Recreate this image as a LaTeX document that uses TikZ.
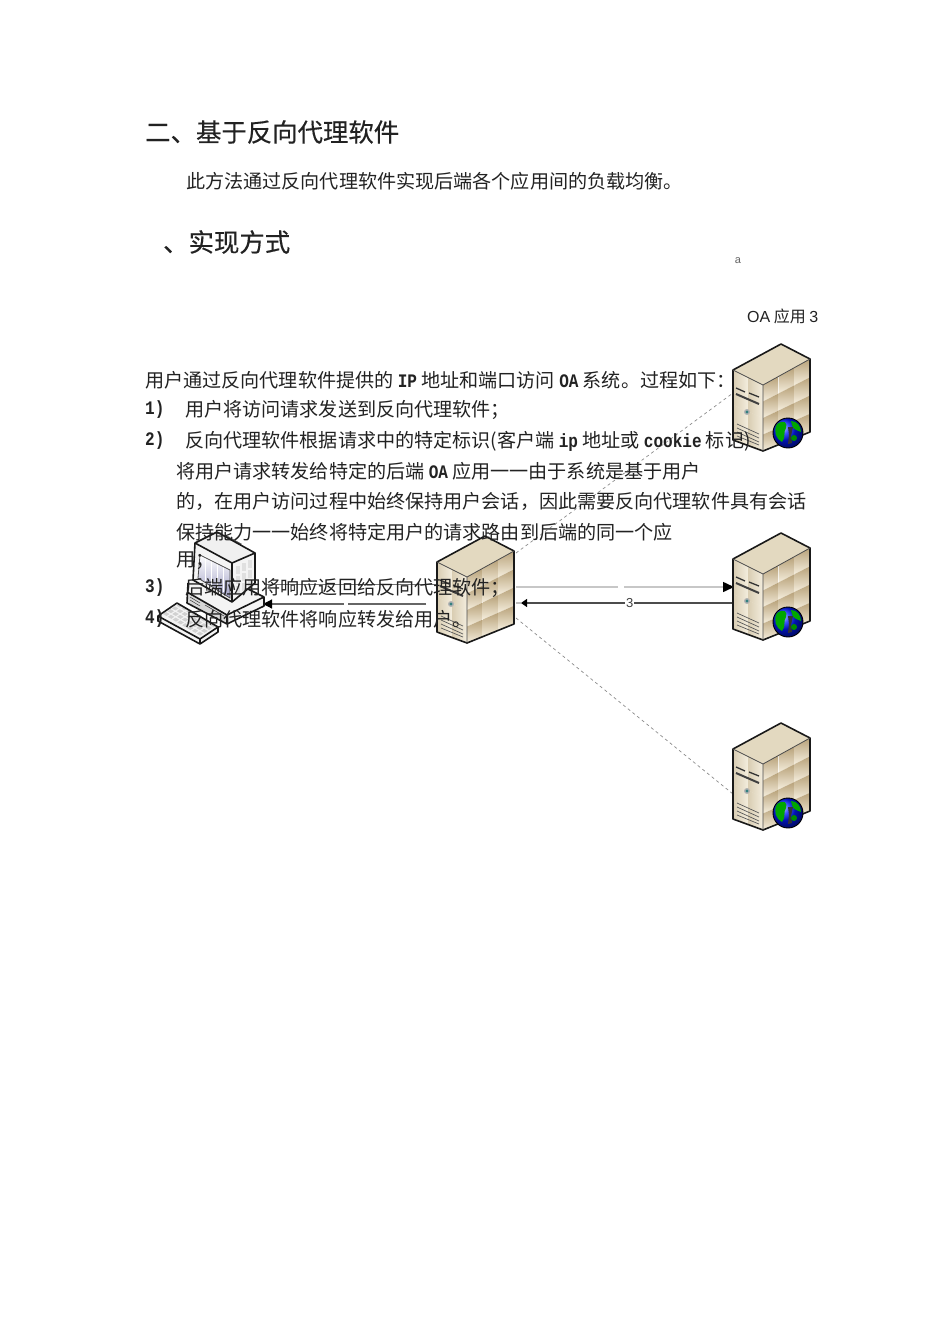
\documentclass[tikz,border=0pt]{standalone}
\usepackage{fontspec}
\setmainfont{Noto Sans CJK SC}
\newfontfamily\latf[Scale=1.0,FakeStretch=0.84,BoldFont={* Bold}]{Liberation Mono}
\newfontfamily\sansf{Liberation Sans}
\newfontfamily\headf[FakeBold=0.35]{Noto Sans CJK SC}
\usetikzlibrary{arrows.meta}
\definecolor{ink}{HTML}{222222}
\definecolor{tileA}{HTML}{B8A27A}
\definecolor{tileB}{HTML}{F5EEDD}
\definecolor{frontA}{HTML}{D9CDB2}
\definecolor{frontB}{HTML}{F3EDDE}
\definecolor{topface}{HTML}{E3D9C0}
\definecolor{caseA}{HTML}{D8D8D8}
\definecolor{caseB}{HTML}{F4F4F4}
\newcommand{\ltn}[1]{{\latf\bfseries #1}}
\tikzset{
  x=1pt,y=-1pt,
  line/.style={font=\fontsize{19.1}{19}\selectfont,anchor=west,inner sep=0pt,text=ink},
  head/.style={font=\headf\fontsize{25.4}{26}\selectfont,anchor=west,inner sep=0pt,text=ink},
  outl/.style={draw=black!90,line width=1.6pt,line join=round},
  hub/.style={inner sep=0pt,minimum width=78pt,minimum height=107pt,anchor=north west},
  pcbox/.style={inner sep=0pt,minimum width=95pt,minimum height=110pt,anchor=north west},
  serverbody/.pic={
    \fill[topface] (48,0)--(0,26)--(30,41)--(77,15)--cycle;
    \fill[frontB] (0,26)--(30,41)--(30,107)--(0,96)--cycle;
    \foreach \i in {0,1}{\foreach \j in {0,1,2,3}{
      \pgfmathsetmacro\ua{\i/2}\pgfmathsetmacro\ub{(\i+1)/2}
      \pgfmathsetmacro\va{\j/4}\pgfmathsetmacro\vb{(\j+1)/4}
      \shade[left color=frontA,right color=frontB]
        ({30*\ua},{26+15*\ua+(70-4*\ua)*\va})--({30*\ub},{26+15*\ub+(70-4*\ub)*\va})--
        ({30*\ub},{26+15*\ub+(70-4*\ub)*\vb})--({30*\ua},{26+15*\ua+(70-4*\ua)*\vb})--cycle;
    }}
    \foreach \i in {0,1,2}{\foreach \j in {0,1,2,3}{
      \pgfmathsetmacro\ua{\i/3}\pgfmathsetmacro\ub{(\i+1)/3}
      \pgfmathsetmacro\va{\j/4}\pgfmathsetmacro\vb{(\j+1)/4}
      \shade[top color=tileA,bottom color=tileB]
        ({30+47*\ua},{41-26*\ua+(66+7*\ua)*\va})--({30+47*\ub},{41-26*\ub+(66+7*\ub)*\va})--
        ({30+47*\ub},{41-26*\ub+(66+7*\ub)*\vb})--({30+47*\ua},{41-26*\ua+(66+7*\ua)*\vb})--cycle;
    }}
    \draw[black!80,line width=1.3pt] (3,44)--(12,48) (16,49)--(26,53);
    \draw[black!75,line width=2pt] (3,50)--(26,60);
    \fill[black!30] (14,68) circle (3);
    \fill[teal!60!gray] (14,68) circle (1.6);
    \draw[black!65,line width=.7pt] (4,80)--(26,90) (4,84)--(26,94) (4,88)--(26,98) (4,92)--(26,101);
    \draw[outl] (48,0)--(77,15)--(77,88)--(30,107)--(0,96)--(0,26)--cycle;
    \draw[black!70,line width=.8pt] (0,26)--(30,41)--(77,15) (30,41)--(30,107);
  },
  globe/.pic={
    \shade[ball color=blue!90!cyan] (0,0) circle (15);
    \fill[green!65!black] (-11,-9) .. controls (-4,-14) and (0,-10) .. (-2,-5) .. controls (-5,-1) and (-2,5) .. (-6,9) .. controls (-12,6) and (-15,-2) .. (-11,-9) -- cycle;
    \fill[green!65!black] (3,-12) .. controls (9,-12) and (13,-7) .. (13,-1) .. controls (8,-3) and (5,-4) .. (4,-8) -- cycle;
    \fill[black!80] (0,-6) -- (5,-6) -- (3,3) -- (4,10) -- (0,11) -- (1,2) -- cycle;
    \fill[green!55!black] (6,5) circle (3);
    \draw[black,line width=.9pt] (0,0) circle (15);
  },
  pcbody/.pic={
    % base unit
    \fill[caseB] (188,583)--(215,568)--(264,597)--(264,606)--(227,624)--(187,603)--cycle;
    \fill[caseA] (187,592)--(227,615)--(227,624)--(187,603)--cycle;
    \draw[black!80,line width=.5pt] (190,597)--(200,603) (190,600)--(200,606) (205,605)--(224,616);
    \draw[outl] (188,583)--(187,603)--(227,624)--(264,606)--(264,597)--(240,585) (187,592)--(227,615)--(264,597) (227,615)--(227,624);
    % monitor
    \fill[caseB] (195,543)--(217,532)--(255,553)--(255,583)--(232,602)--(193,580)--cycle;
    \foreach \a in {0,1,2}{\foreach \b in {0,1,2}{
      \fill[black!12] ({236+6*\a},{566-3*\a+10*\b}) rectangle ++(4,8);
    }}
    \fill[black!65] (222,537)--(226,535)--(242,544)--(238,546)--cycle;
    \fill[black!6] (195,543)--(217,532)--(255,553)--(232,563)--cycle;
    \shade[top color=white,bottom color=blue!25!gray!60] (200,555)--(230,570)--(230,598)--(198,578)--cycle;
    \foreach \a in {0,1,2,3}{\draw[white,line width=.5pt] ({205+6*\a},{556+3*\a})--({205+6*\a},{583+3*\a});}
    \draw[black!70,line width=.8pt] (200,555)--(230,570)--(230,598)--(198,578)--cycle;
    \draw[outl] (195,543)--(217,532)--(255,553)--(255,583)--(232,602)--(193,580)--cycle (195,543)--(232,563)--(255,553) (232,563)--(232,602);
    % keyboard
    \fill[caseB] (158,616)--(177,603)--(218,627)--(218,632)--(200,644)--(158,621)--cycle;
    \foreach \r in {0,1,2,3}{\foreach \c in {0,1,2,3,4,5,6,7}{
      \fill[black!18] ({163+4.8*\c+4.5*\r},{614+2.8*\c-2.8*\r}) ++(0,0) --++(3.5,2)--++(3,-2)--++(-3.5,-2)--cycle;
    }}
    \draw[outl] (158,616)--(177,603)--(218,627)--(218,632)--(200,644)--(158,621)--cycle (158,616)--(200,639)--(218,627) (200,639)--(200,644);
  }
}
\begin{document}
\begin{tikzpicture}
\useasboundingbox[fill=white] (0,0) rectangle (950,1344);

% anchors of the drawn equipment
\node[hub] (proxy) at (437,536) {};
\node[hub] (appC) at (733,344) {};
\node[hub] (appB) at (733,533) {};
\node[hub] (appA) at (733,723) {};
\node[pcbox] (pc) at (160,535) {};
\coordinate (pa1) at (516,553);
\coordinate (pb1) at (516,587);
\coordinate (pb2) at (516,603);
\coordinate (pb3) at (521,603);
\coordinate (pc1) at (516,618);
\coordinate (ca) at (733,393);
\coordinate (cb1) at (734,587);
\coordinate (cb2) at (734,603);
\coordinate (cc) at (733,794);
\coordinate (pl1) at (437,584);
\coordinate (pl2) at (426,604);
\coordinate (cl1) at (264,584);
\coordinate (cl2) at (263,604);

% connectors
\draw[black!45,dashed,line width=.7pt] (pa1)--(ca);
\draw[black!45,dashed,line width=.7pt] (pc1)--(cc);
\draw[black!22,line width=1.5pt,-{Triangle[length=11pt,width=10pt,black]}] (pb1)--(cb1)
  node[pos=.48,fill=white,inner sep=0pt,minimum width=6pt,minimum height=4pt] (gapB) {};
\draw[black!70,line width=1.2pt,-{Triangle[length=6pt,width=8pt,black]}] (cb2)--(pb3)
  node[pos=.49,fill=white,inner sep=1pt,text=black!75,font=\sansf\fontsize{13}{13}\selectfont] (lblThree) {3};
\draw[black!25,line width=1.5pt] (pb3)--(pb2);
\draw[black!55,line width=1pt] (pl1)--(cl1);
\draw[black!60,line width=1.2pt,-{Triangle[length=9pt,width=9pt,black]}] (pl2)--(cl2)
  node[pos=.49,fill=white,inner sep=0pt,minimum width=4pt,minimum height=4pt] (gapL) {};

% equipment
\pic at (proxy.north west) {serverbody};
\pic at (appC.north west) {serverbody};
\pic at (appB.north west) {serverbody};
\pic at (appA.north west) {serverbody};
\pic at (788,433) {globe};
\pic at (788,622) {globe};
\pic at (788,813) {globe};
\pic at (0,0) {pcbody};

% labels
\node[inner sep=0pt,text=black!60,font=\sansf\fontsize{11}{11}\selectfont] (noteA) at (738,261) {a};
\node[anchor=west,inner sep=0pt,text=ink,font=\fontsize{16}{16}\selectfont] (lblOA) at (747,316) {{\sansf OA} 应用 {\sansf 3}};

% text
\node[head] (t1) at (145,132) {二、基于反向代理软件};
\node[line] (t2) at (186,181) {此方法通过反向代理软件实现后端各个应用间的负载均衡。};
\node[head] (t3) at (163,242) {、实现方式};
\node[line] (t4) at (145,380) {用户通过反向代理软件提供的 \ltn{IP} 地址和端口访问 \ltn{OA} 系统。过程如下：};
\node[line] (n1) at (145,410) {\ltn{1)}};
\node[line] (t5) at (185,410) {用户将访问请求发送到反向代理软件；};
\node[line] (n2) at (145,441) {\ltn{2)}};
\node[line] (t6) at (185,441) {反向代理软件根据请求中的特定标识(客户端 \ltn{ip} 地址或 \ltn{cookie} 标记)};
\node[line] (t7) at (176,471) {将用户请求转发给特定的后端 \ltn{OA} 应用一一由于系统是基于用户};
\node[line] (t8) at (176,501) {的，在用户访问过程中始终保持用户会话，因此需要反向代理软件具有会话};
\node[line] (t9) at (176,532) {保持能力一一始终将特定用户的请求路由到后端的同一个应};
\node[line] (t10) at (176,561) {用；};
\node[line] (n3) at (145,588) {\ltn{3)}};
\node[line] (t11) at (185,588) {后端应用将响应返回给反向代理软件；};
\node[line] (n4) at (145,619) {\ltn{4)}};
\node[line] (t12) at (185,619) {反向代理软件将响应转发给用户。};
\end{tikzpicture}
\end{document}
